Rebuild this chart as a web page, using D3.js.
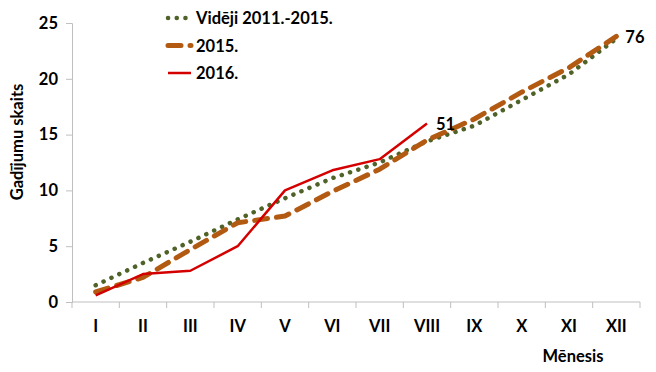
<!DOCTYPE html>
<html>
<head>
<meta charset="utf-8">
<script src="https://cdn.jsdelivr.net/npm/d3@7"></script>
<style>
  body { margin: 0; background: #fff; }
  text { font-family: Lato, "Liberation Sans", sans-serif; font-weight: bold; fill: #000; }
</style>
</head>
<body>
<div id="chart"></div>
<script>
// Data
const months = ["I", "II", "III", "IV", "V", "VI", "VII", "VIII", "IX", "X", "XI", "XII"];
const avg2011_2015 = [1.5, 3.5, 5.4, 7.4, 9.3, 11.1, 12.5, 14.4, 15.8, 18.1, 20.4, 23.6];
const y2015 = [0.9, 2.2, 4.7, 7.1, 7.7, 9.9, 11.9, 14.5, 16.4, 18.8, 21.0, 23.8];
const y2016 = [0.6, 2.5, 2.8, 5.0, 10.0, 11.8, 12.8, 16.0];
const yTicks = [0, 5, 10, 15, 20, 25];
const endLabels = [
  { text: "51", series: "2016." },
  { text: "76", series: "2015." }
];

const width = 656;
const height = 372;
const margin = { top: 23, right: 16, bottom: 70, left: 72 };
const fontSize = "16.5px";

const svg = d3.select("#chart")
  .append("svg")
  .attr("width", width)
  .attr("height", height);

const x = d3.scaleBand()
  .domain(months)
  .range([margin.left, width - margin.right]);

const y = d3.scaleLinear()
  .domain([0, 25])
  .range([height - margin.bottom, margin.top]);

const series = [
  { name: "Vidēji 2011.-2015.", values: avg2011_2015, color: "#4f6228", width: 4.5, dash: "0.1 8.6", cap: "round" },
  { name: "2015.", values: y2015, color: "#b35a12", width: 5, dash: "13 9", cap: "round" },
  { name: "2016.", values: y2016, color: "#d40000", width: 2.5, dash: null, cap: "butt" }
];

// Axes
const yAxis = svg.append("g")
  .attr("transform", `translate(${margin.left},0)`)
  .call(d3.axisLeft(y).tickValues(yTicks).tickSize(6).tickPadding(8));
yAxis.selectAll("line, path").attr("stroke", "#bfbfbf");
yAxis.selectAll("text").style("font-size", fontSize);

const boundaries = months.map(m => x(m)).concat([x.range()[1]]);
const xAxis = svg.append("g")
  .attr("transform", `translate(0,${y(0)})`);
xAxis.append("line")
  .attr("x1", x.range()[0]).attr("x2", x.range()[1])
  .attr("stroke", "#bfbfbf");
xAxis.selectAll("line.tick")
  .data(boundaries)
  .enter()
  .append("line")
  .attr("class", "tick")
  .attr("x1", d => d).attr("x2", d => d)
  .attr("y1", 0).attr("y2", 6)
  .attr("stroke", "#bfbfbf");
xAxis.selectAll("text")
  .data(months)
  .enter()
  .append("text")
  .attr("x", d => x(d) + x.bandwidth() / 2)
  .attr("y", 30)
  .attr("text-anchor", "middle")
  .style("font-size", fontSize)
  .text(d => d);

// Axis titles
svg.append("text")
  .attr("transform", "translate(23,142) rotate(-90)")
  .attr("text-anchor", "middle")
  .style("font-size", fontSize)
  .text("Gadījumu skaits");

svg.append("text")
  .attr("x", 573)
  .attr("y", 362)
  .attr("text-anchor", "middle")
  .style("font-size", fontSize)
  .text("Mēnesis");

// Lines
const line = d3.line()
  .x((d, i) => x(months[i]) + x.bandwidth() / 2)
  .y(d => y(d));

series.forEach(s => {
  svg.append("path")
    .datum(s.values)
    .attr("d", line)
    .attr("fill", "none")
    .attr("stroke", s.color)
    .attr("stroke-width", s.width)
    .attr("stroke-dasharray", s.dash)
    .attr("stroke-linecap", s.cap)
    .attr("stroke-linejoin", "round");
});

// End labels
endLabels.forEach(l => {
  const s = series.find(d => d.name === l.series);
  const i = s.values.length - 1;
  svg.append("text")
    .attr("x", x(months[i]) + x.bandwidth() / 2 + 9)
    .attr("y", y(s.values[i]) + 7)
    .style("font-size", fontSize)
    .text(l.text);
});

// Legend
const legend = svg.append("g").attr("transform", "translate(166,18)");
series.forEach((s, i) => {
  const row = legend.append("g").attr("transform", `translate(0,${i * 27.5})`);
  row.append("line")
    .attr("x1", 2).attr("x2", 25)
    .attr("stroke", s.color)
    .attr("stroke-width", s.width)
    .attr("stroke-dasharray", s.dash)
    .attr("stroke-linecap", s.cap);
  row.append("text")
    .attr("x", 30)
    .attr("y", 6)
    .style("font-size", fontSize)
    .text(s.name);
});
</script>
</body>
</html>
